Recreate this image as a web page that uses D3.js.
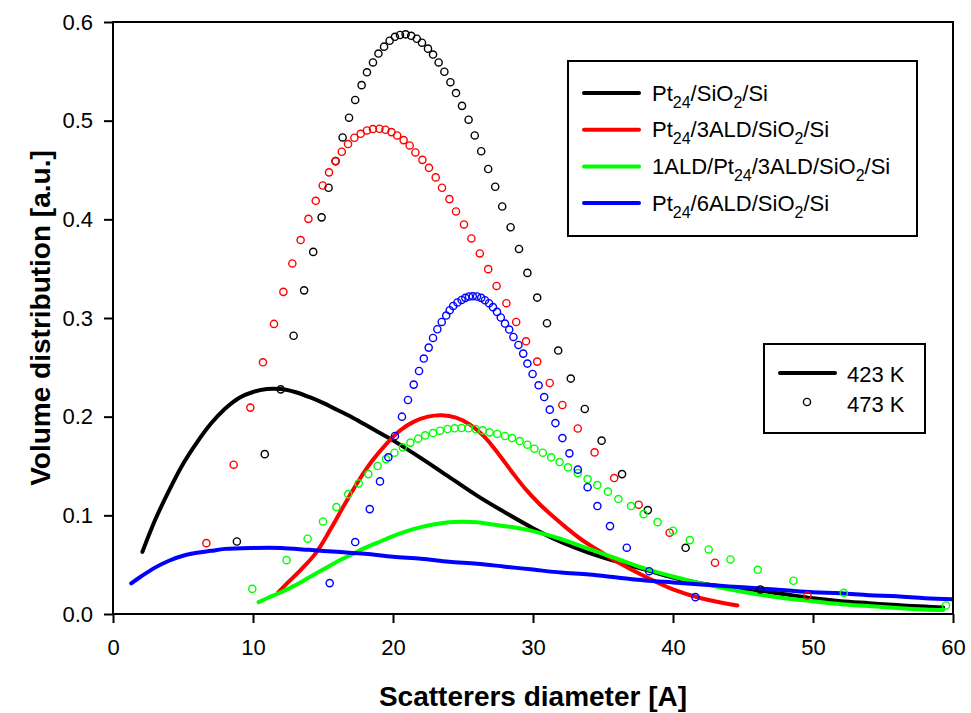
<!DOCTYPE html>
<html>
<head>
<meta charset="utf-8">
<script src="https://cdn.jsdelivr.net/npm/d3@7/dist/d3.min.js"></script>
<style>
  html, body { margin: 0; padding: 0; background: #ffffff; }
  svg { display: block; font-family: "Liberation Sans", Arial, sans-serif; }
</style>
</head>
<body>
<svg id="chart" width="971" height="713"></svg>
<script>
// Sample labels (underscore-braces mark subscripts) and their colours
const samples = [
  "Pt_{24}/SiO_{2}/Si",
  "Pt_{24}/3ALD/SiO_{2}/Si",
  "1ALD/Pt_{24}/3ALD/SiO_{2}/Si",
  "Pt_{24}/6ALD/SiO_{2}/Si"
];
const colors = ["#000000", "#ff0000", "#00ff00", "#0000ff"];
const tempLabels = ["423 K", "473 K"];

const xTicks = [0, 10, 20, 30, 40, 50, 60];
const yTicks = [0.0, 0.1, 0.2, 0.3, 0.4, 0.5, 0.6];

// 423 K: fitted size distributions, [diameter, volume]
const pt24_423 = [
  [2.1,0.063],[3,0.095],[4,0.125],[5,0.152],[6,0.174],[7,0.193],[8,0.208],[9,0.219],
  [10,0.225],[11,0.228],[12,0.228],[13,0.225],[14,0.220],[15,0.214],[16,0.207],[17,0.200],
  [18,0.192],[19,0.184],[20,0.176],[22,0.158],[24,0.139],[26,0.120],[28,0.103],[30,0.087],
  [32,0.073],[34,0.062],[36,0.053],[38,0.045],[40,0.037],[42,0.031],[44,0.027],[46,0.024],
  [48,0.020],[50,0.016],[52,0.013],[54,0.011],[56,0.009],[58,0.0075],[59.3,0.0065]
];
const pt24ald3_423 = [
  [11.8,0.022],[12.5,0.032],[13.5,0.046],[14.5,0.062],[15.5,0.085],[16.5,0.110],[17.5,0.134],
  [18.5,0.155],[19.5,0.172],[20.5,0.186],[21.5,0.195],[22.5,0.200],[23.5,0.2015],[24.5,0.199],
  [25.5,0.192],[26.5,0.180],[27.5,0.163],[28.5,0.144],[29.5,0.126],[30.5,0.111],[31.5,0.098],
  [32.5,0.086],[33.5,0.075],[34.5,0.066],[36,0.053],[38,0.038],[40,0.025],[42,0.016],[44.6,0.0086]
];
const ald1pt24_423 = [
  [10.4,0.012],[11,0.016],[12,0.022],[13,0.029],[14,0.037],[15,0.045],[16,0.053],[17,0.060],
  [18,0.067],[19,0.073],[20,0.079],[21,0.084],[22,0.088],[23,0.091],[24,0.093],[25,0.0935],
  [26,0.093],[27,0.091],[28,0.089],[29,0.087],[30,0.084],[32,0.076],[34,0.066],[36,0.056],
  [38,0.046],[40,0.038],[42,0.031],[44,0.025],[46,0.020],[48,0.016],[50,0.013],[52,0.010],
  [54,0.008],[56,0.006],[58,0.0045],[59.3,0.004]
];
const pt24ald6_423 = [
  [1.3,0.031],[2,0.038],[3,0.047],[4,0.054],[5,0.059],[6,0.062],[7,0.064],[8,0.066],
  [10,0.067],[12,0.067],[14,0.065],[16,0.063],[18,0.061],[20,0.058],[22,0.056],[24,0.053],
  [26,0.051],[28,0.048],[30,0.045],[32,0.042],[34,0.040],[36,0.037],[38,0.034],[40,0.032],
  [42,0.030],[44,0.028],[46,0.026],[48,0.024],[50,0.022],[52,0.021],[54,0.019],[56,0.018],
  [58,0.016],[60,0.015]
];

// 473 K: measured points, [diameter, volume]
const pt24_473 = [
  [8.85,0.0735],[10.84,0.162],[11.98,0.2277],[12.9,0.282],[13.65,0.328],[14.3,0.367],
  [14.9,0.402],[15.4,0.432],[15.9,0.459],[16.4,0.483],[16.86,0.503],[17.3,0.521],
  [17.76,0.536],[18.14,0.549],[18.57,0.559],[18.96,0.568],[19.36,0.575],[19.76,0.581],
  [20.14,0.585],[20.5,0.5868],[20.9,0.5875],[21.3,0.586],[21.7,0.583],[22.07,0.579],
  [22.5,0.573],[22.86,0.567],[23.26,0.559],[23.67,0.5496],[24.1,0.539],[24.5,0.528],
  [24.93,0.515],[25.4,0.501],[25.84,0.485],[26.3,0.469],[26.8,0.451],[27.3,0.433],
  [27.8,0.413],[28.4,0.392],[29.0,0.370],[29.6,0.3457],[30.3,0.3207],[31.0,0.2947],
  [31.8,0.267],[32.7,0.2386],[33.7,0.2078],[34.9,0.1757],[36.36,0.1418],[38.2,0.1053],
  [40.9,0.0671],[46.24,0.0249]
];
const pt24ald3_473 = [
  [6.67,0.0718],[8.62,0.1513],[9.81,0.2092],[10.71,0.2551],[11.5,0.294],[12.17,0.3265],
  [12.81,0.3553],[13.4,0.379],[13.96,0.4005],[14.48,0.4188],[14.98,0.4343],[15.43,0.4476],
  [15.9,0.459],[16.34,0.4685],[16.79,0.4763],[17.24,0.4827],[17.69,0.4867],[18.14,0.4901],
  [18.57,0.4915],[19.03,0.4918],[19.46,0.4908],[19.89,0.4884],[20.3,0.485],[20.76,0.4803],
  [21.19,0.4749],[21.6,0.4678],[22.1,0.4603],[22.57,0.4522],[23.05,0.4425],[23.5,0.432],
  [24.03,0.4205],[24.5,0.408],[25.07,0.3948],[25.6,0.3806],[26.2,0.3654],[26.8,0.3495],
  [27.4,0.3325],[28.1,0.315],[28.8,0.296],[29.5,0.2764],[30.3,0.2558],[31.2,0.2341],
  [32.1,0.2118],[33.2,0.188],[34.4,0.1638],[35.8,0.1378],[37.55,0.1108],[39.76,0.0824],
  [43.0,0.052],[49.6,0.0188]
];
const ald1pt24_473 = [
  [9.95,0.0255],[12.4,0.0546],[13.9,0.0763],[15.0,0.0938],[15.96,0.1083],[16.8,0.1215],
  [17.55,0.1324],[18.24,0.1418],[18.9,0.15],[19.5,0.157],[20.1,0.1635],[20.7,0.1689],
  [21.24,0.1737],[21.8,0.1777],[22.3,0.181],[22.86,0.1834],[23.36,0.1858],[23.9,0.1875],
  [24.4,0.1882],[24.9,0.1885],[25.4,0.1882],[25.9,0.1875],[26.4,0.1861],[26.9,0.1841],
  [27.45,0.1825],[28.0,0.1804],[28.5,0.1783],[29.05,0.1753],[29.6,0.1716],[30.1,0.1675],
  [30.7,0.1635],[31.3,0.1588],[31.9,0.154],[32.5,0.1486],[33.2,0.1428],[33.9,0.1367],
  [34.6,0.1307],[35.35,0.124],[36.1,0.1165],[37.0,0.1094],[37.9,0.1012],[38.9,0.0931],
  [40.0,0.0844],[41.2,0.0749],[42.55,0.0654],[44.1,0.0553],[46.05,0.0448],[48.6,0.0337],
  [52.2,0.0215],[59.5,0.0086]
];
const pt24ald6_473 = [
  [15.48,0.0313],[17.3,0.0729],[18.34,0.1063],[19.07,0.1344],[19.67,0.1588],[20.14,0.1804],
  [20.64,0.2],[21.07,0.2169],[21.48,0.2325],[21.86,0.2463],[22.2,0.2589],[22.55,0.27],
  [22.86,0.2798],[23.17,0.2886],[23.48,0.296],[23.8,0.3025],[24.05,0.3079],[24.3,0.3122],
  [24.6,0.3157],[24.9,0.3183],[25.17,0.3204],[25.43,0.3218],[25.7,0.322],[26.0,0.3218],
  [26.3,0.3204],[26.57,0.318],[26.86,0.315],[27.14,0.311],[27.43,0.3062],[27.7,0.3005],
  [28.0,0.2944],[28.3,0.2883],[28.6,0.2808],[28.96,0.2727],[29.3,0.2639],[29.6,0.2538],
  [29.97,0.2433],[30.4,0.2318],[30.8,0.2199],[31.2,0.2071],[31.6,0.1935],[32.1,0.1783],
  [32.6,0.1628],[33.2,0.1463],[33.9,0.1285],[34.6,0.1094],[35.5,0.0891],[36.7,0.0672],
  [38.3,0.0434],[41.6,0.0171]
];

const curves423 = [pt24_423, pt24ald3_423, ald1pt24_423, pt24ald6_423];
const points473 = [pt24_473, pt24ald3_473, ald1pt24_473, pt24ald6_473];

// ---- layout ----
const W = 971, H = 713;
const margin = { top: 22, right: 18, bottom: 99, left: 113 };
const innerW = W - margin.left - margin.right;
const innerH = H - margin.top - margin.bottom;

const svg = d3.select("#chart");
const g = svg.append("g").attr("transform", `translate(${margin.left},${margin.top})`);

const x = d3.scaleLinear().domain([0, 60]).range([0, innerW]);
const y = d3.scaleLinear().domain([0, 0.6]).range([innerH, 0]);

// clip marks to the plotting frame
svg.append("defs").append("clipPath").attr("id", "plotClip")
  .append("rect").attr("x", 0).attr("y", 0).attr("width", innerW).attr("height", innerH);

// fitted curves (423 K)
const line = d3.line()
  .x(d => x(d[0])).y(d => y(d[1]))
  .curve(d3.curveCatmullRom.alpha(0.5));

const marks = g.append("g").attr("clip-path", "url(#plotClip)");
curves423.forEach((c, i) => {
  marks.append("path")
    .datum(c)
    .attr("d", line)
    .attr("fill", "none")
    .attr("stroke", colors[i])
    .attr("stroke-width", 4)
    .attr("stroke-linecap", "round")
    .attr("stroke-linejoin", "round");
});

// measured points (473 K)
points473.forEach((p, i) => {
  marks.append("g").selectAll("circle")
    .data(p).join("circle")
    .attr("cx", d => x(d[0]))
    .attr("cy", d => y(d[1]))
    .attr("r", 3.6)
    .attr("fill", "none")
    .attr("stroke", colors[i])
    .attr("stroke-width", 1.4);
});

// ---- axes ----
const axisFont = 22;
const xAxis = g.append("g").attr("transform", `translate(0,${innerH})`)
  .call(d3.axisBottom(x).tickValues(xTicks).tickSize(9).tickPadding(16).tickFormat(d3.format("d")));
const yAxis = g.append("g")
  .call(d3.axisLeft(y).tickValues(yTicks).tickSize(9).tickPadding(11).tickFormat(d3.format(".1f")));

[xAxis, yAxis].forEach(a => {
  a.select(".domain").remove();
  a.selectAll(".tick line").attr("stroke", "#000").attr("stroke-width", 2);
  a.selectAll(".tick text")
    .attr("fill", "#000")
    .style("font-family", '"Liberation Sans", Arial, sans-serif')
    .style("font-size", axisFont + "px");
});

// frame around the plotting area
g.append("rect")
  .attr("x", 0).attr("y", 0).attr("width", innerW).attr("height", innerH)
  .attr("fill", "none").attr("stroke", "#000").attr("stroke-width", 2);

// axis titles
svg.append("text")
  .attr("x", margin.left + innerW / 2)
  .attr("y", 706)
  .attr("text-anchor", "middle")
  .style("font-weight", "bold")
  .style("font-size", "28px")
  .text("Scatterers diameter [A]");

svg.append("text")
  .attr("transform", `translate(50,${margin.top + innerH / 2}) rotate(-90)`)
  .attr("text-anchor", "middle")
  .style("font-weight", "bold")
  .style("font-size", "28px")
  .text("Volume distribution [a.u.]");

// ---- legends ----
function richText(sel, label, size) {
  const parts = label.split(/(_\{[^}]*\})/).filter(s => s.length);
  let lowered = false;
  parts.forEach(p => {
    if (p.startsWith("_{")) {
      sel.append("tspan")
        .attr("dy", lowered ? 0 : 7)
        .style("font-size", Math.round(size * 0.72) + "px")
        .text(p.slice(2, -1));
      lowered = true;
    } else {
      sel.append("tspan")
        .attr("dy", lowered ? -7 : 0)
        .style("font-size", size + "px")
        .text(p);
      lowered = false;
    }
  });
}

const leg1 = svg.append("g").attr("transform", "translate(568,61)");
leg1.append("rect").attr("width", 349).attr("height", 175)
  .attr("fill", "#fff").attr("stroke", "#000").attr("stroke-width", 2);
samples.forEach((s, i) => {
  const cy = 32 + i * 36.7;
  leg1.append("line")
    .attr("x1", 16).attr("x2", 71).attr("y1", cy).attr("y2", cy)
    .attr("stroke", colors[i]).attr("stroke-width", 4).attr("stroke-linecap", "round");
  const t = leg1.append("text").attr("x", 84).attr("y", cy + 7.5);
  richText(t, s, 22);
});

const leg2 = svg.append("g").attr("transform", "translate(764,344)");
leg2.append("rect").attr("width", 161).attr("height", 89)
  .attr("fill", "#fff").attr("stroke", "#000").attr("stroke-width", 2);
leg2.append("line")
  .attr("x1", 16).attr("x2", 71).attr("y1", 29).attr("y2", 29)
  .attr("stroke", "#000").attr("stroke-width", 4).attr("stroke-linecap", "round");
leg2.append("circle")
  .attr("cx", 43).attr("cy", 58).attr("r", 3.6)
  .attr("fill", "none").attr("stroke", "#000").attr("stroke-width", 1.4);
tempLabels.forEach((t, i) => {
  leg2.append("text")
    .attr("x", 83).attr("y", 38 + i * 30)
    .style("font-size", "22px")
    .text(t);
});
</script>
</body>
</html>
